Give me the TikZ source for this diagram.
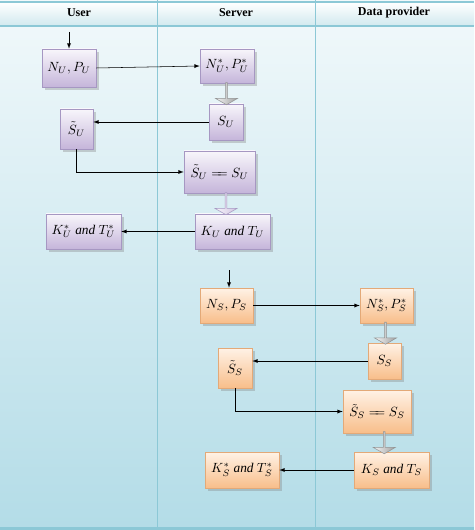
\documentclass[tikz,border=0pt]{standalone}
\usepackage{amsmath}
\usepackage{fontspec}
\setmainfont{Liberation Serif}
\usetikzlibrary{shapes.arrows,shadows,calc}

\newlength\px
\setlength\px{0.75pt}

\definecolor{bgtop}{HTML}{F2F9FB}
\definecolor{bgbot}{HTML}{B3DCE7}
\definecolor{laneline}{HTML}{8CC8D6}
\definecolor{utop}{HTML}{F8F6FB}
\definecolor{ubot}{HTML}{C5B5DA}
\definecolor{uline}{HTML}{A697C2}
\definecolor{stop}{HTML}{FFF2E6}
\definecolor{sbot}{HTML}{F8BE8A}
\definecolor{sline}{HTML}{E3A978}

\tikzset{
  ubox/.style={draw=uline, top color=utop, bottom color=ubot, drop shadow={opacity=0.35},
    inner sep=1pt, font=\normalsize},
  sbox/.style={draw=sline, top color=stop, bottom color=sbot, drop shadow={opacity=0.35},
    inner sep=1pt, font=\normalsize},
  garrow/.style={single arrow, draw=gray!85, left color=gray!8, right color=gray!75,
    rotate=-90, inner sep=0pt, minimum height=22\px, minimum width=22\px,
    single arrow head extend=3\px, single arrow tip angle=120},
  lane/.style={font=\small\bfseries},
}

\begin{document}
\begin{tikzpicture}[x=\px, y=-\px, >=latex]
  \useasboundingbox (0,0) rectangle (474,530);
  \shade[top color=bgtop, bottom color=bgbot] (0,0) rectangle (474,530);

  % header
  \shade[top color=white, bottom color=laneline!40] (0,2) rectangle (474,26);
  \draw[laneline, line width=1.5\px] (0,2) -- (474,2);
  \draw[laneline, line width=1.5\px] (0,26) -- (474,26);
  \draw[laneline, line width=3\px] (0,528) -- (474,528);
  \draw[laneline] (157,0) -- (157,527);
  \draw[laneline] (315,0) -- (315,527);

  \node[lane] (user) at (79,13) {User};
  \node[lane] (server) at (236,13) {Server};
  \node[lane] (provider) at (394,13) {Data provider};

  % user / server
  \node[ubox, minimum width=54\px, minimum height=38\px] (nu) at (69,68) {$N_U,P_U$};
  \node[ubox, minimum width=54\px, minimum height=34\px] (nus) at (227,66) {$N_U^*,P_U^*$};
  \node[ubox, minimum width=34\px, minimum height=36\px] (su) at (226,122) {$S_U$};
  \node[ubox, minimum width=33\px, minimum height=40\px] (tsu) at (76.5,129) {$\tilde{S}_U$};
  \node[ubox, minimum width=71\px, minimum height=42\px] (equ) at (219.5,172) {$\tilde{S}_U \mathrel{=\!\!=} S_U$};
  \node[ubox, minimum width=75\px, minimum height=35\px] (ku) at (232.5,231.5) {$K_U$ \textit{and} $T_U$};
  \node[ubox, minimum width=75\px, minimum height=35\px] (kus) at (83.5,231.5) {$K_U^*$ \textit{and} $T_U^*$};

  \coordinate (startu) at (69,32);
  \draw[->] (startu) -- (nu.north);
  \draw[->] (nu.east) -- (nus.west);
  \node[garrow] (g1) at ($(nus.south)!0.5!(su.north)$) {};
  \draw[->] (su.west) -- (su.west -| tsu.east);
  \draw[->] (tsu.south) |- (equ.west);
  \node[garrow, draw=uline, left color=utop, right color=ubot!80] (g2) at ($(equ.south)!0.5!(ku.north)$) {};
  \draw[->] (ku.west) -- (kus.east);

  % server / data provider
  \node[sbox, minimum width=53\px, minimum height=35\px] (ns) at (226.5,305.5) {$N_S,P_S$};
  \node[sbox, minimum width=53\px, minimum height=35\px] (nss) at (386.5,305.5) {$N_S^*,P_S^*$};
  \node[sbox, minimum width=33\px, minimum height=36\px] (ss) at (384.5,361) {$S_S$};
  \node[sbox, minimum width=34\px, minimum height=40\px] (tss) at (235,368) {$\tilde{S}_S$};
  \node[sbox, minimum width=68\px, minimum height=43\px] (eqs) at (377,411.5) {$\tilde{S}_S \mathrel{=\!\!=} S_S$};
  \node[sbox, minimum width=75\px, minimum height=36\px] (ks) at (391.5,470) {$K_S$ \textit{and} $T_S$};
  \node[sbox, minimum width=74\px, minimum height=36\px] (kss) at (242,470) {$K_S^*$ \textit{and} $T_S^*$};

  \coordinate (starts) at (229,270);
  \draw[->] (starts) -- (starts |- ns.north);
  \draw[->] (ns.east) -- (nss.west);
  \node[garrow] (g3) at ($(nss.south)!0.5!(ss.north)$) {};
  \draw[->] (ss.west) -- (ss.west -| tss.east);
  \draw[->] (tss.south) |- (eqs.west);
  \node[garrow] (g4) at ($(eqs.south)!0.5!(ks.north)$) {};
  \draw[->] (ks.west) -- (kss.east);
\end{tikzpicture}
\end{document}
